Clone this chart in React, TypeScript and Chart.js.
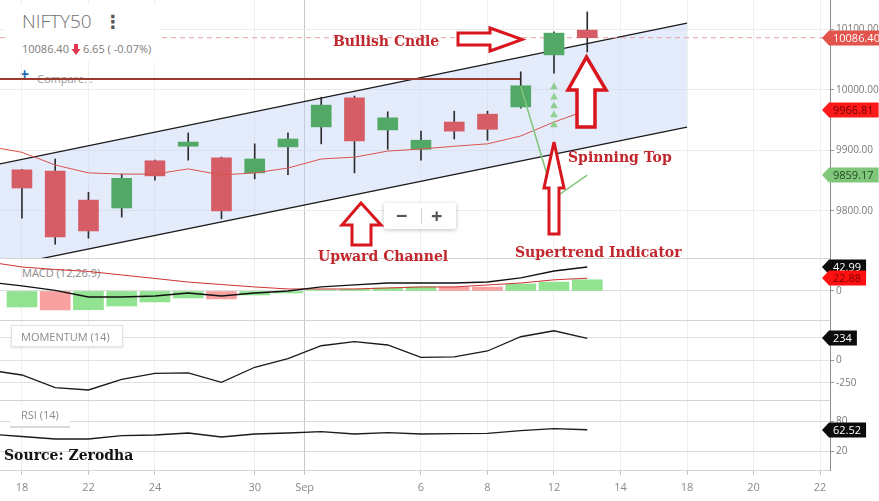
import React, { useEffect, useRef } from 'react';
import { Chart, registerables } from 'chart.js';

Chart.register(...registerables);

const FONT = "'Open Sans', 'DejaVu Sans', sans-serif";
const SERIF = "'DejaVu Serif', serif";

// ---- x axis (trading-day index) ----
const X_MIN = -0.66;
const X_MAX = 24.3;
const xTickPos = [0, 2, 4, 7, 8.5, 12, 14, 16, 18, 20, 22, 24];
const xTickLabels = ['18', '22', '24', '30', 'Sep', '6', '8', '12', '14', '18', '20', '22'];

// ---- candles: Aug 18 ... Sep 13 (index 0..17) ----
const days = [0, 1, 2, 3, 4, 5, 6, 7, 8, 9, 10, 11, 12, 13, 14, 15, 16, 17];
const opens = [9868, 9866, 9818, 9805, 9883, 9907, 9888, 9863, 9906, 9939, 9987, 9934, 9902, 9947, 9960, 9972, 10058, 10099];
const highs = [9869, 9886, 9831, 9861, 9884, 9929, 9889, 9911, 9929, 9988, 9990, 9964, 9932, 9965, 9965, 10030, 10096, 10129];
const lows = [9788, 9745, 9755, 9790, 9851, 9884, 9787, 9853, 9860, 9911, 9863, 9902, 9884, 9919, 9917, 9970, 10028, 10063];
const closes = [9838, 9757, 9767, 9854, 9858, 9914, 9800, 9886, 9919, 9975, 9916, 9954, 9917, 9932, 9935, 10007, 10094, 10086.4];

// ---- indicator series (index -1..17) ----
const indIdx = [-1, 0, 1, 2, 3, 4, 5, 6, 7, 8, 9, 10, 11, 12, 13, 14, 15, 16, 17];
const maVals = [9907, 9897, 9876, 9863, 9861, 9861, 9869.6, 9859.5, 9863, 9871, 9886, 9889, 9899, 9902.5, 9907, 9911, 9924, 9947, 9966.81];

// ---- drawn channel / levels ----
const channelX = [-0.66, 20];
const channelUpper = [9877.7, 10110.7];
const channelLower = [9707.4, 9938.8];
const resistanceX = [-0.66, 15];
const resistanceLevel = 10018;
const lastPrice = 10086.4;

// ---- supertrend ----
const supertrendX = [15, 16, 17];
const supertrendVals = [10006, 9821, 9859.17];
const signalArrowX = 16;
const signalArrowVals = [10005, 9988, 9973.5, 9958.7, 9942];

// ---- MACD ----
const macdVals = [16, 9, 1, -10.8, -10.8, -9, -3.6, -9, -3.6, 0, 7.2, 10.8, 14.3, 14.3, 14.3, 16.1, 23.3, 35.8, 42.99];
const signalVals = [52, 43, 38.5, 35, 28.7, 22.4, 16, 11.6, 7.2, 3.6, 3.6, 3.6, 5.4, 7.2, 7.2, 10.8, 14.3, 20, 22.88];
const histVals = [-28.7, -34, -33.5, -27, -19.7, -12.5, -14.3, -7.2, -3.6, 2, 3, 5.4, 7.4, 7.2, 7.0, 12.5, 16, 20.1];

// ---- Momentum / RSI ----
const momVals = [-110, -163, -301, -326, -210, -145, -141, -242, -79, 14, 155, 199, 163, 29, 33, 98, 253, 318, 234];
const rsiVals = [54, 49, 44, 44, 50.6, 52, 56, 48, 54, 56, 58.6, 54, 56.6, 54, 54.6, 55.4, 60.6, 64.6, 62.52];

const GREEN = '#52a866';
const RED = '#d65c66';
const HIST_GREEN = '#91e291';
const HIST_RED = '#f7a1a1';

type Tag = { value: number; text: string; bg: string; fg: string };

function tagPlugin(tags: Tag[]) {
  return {
    id: 'tags',
    afterDraw(chart: any) {
      const ctx = chart.ctx;
      const ys = chart.scales.y;
      ctx.save();
      ctx.font = `11px ${FONT}`;
      for (const t of tags) {
        const y = Math.round(ys.getPixelForValue(t.value));
        const w = ctx.measureText(t.text).width + 9;
        const x0 = 822;
        const x1 = 829;
        const h = 15;
        ctx.beginPath();
        ctx.moveTo(x0, y);
        ctx.lineTo(x1, y - h / 2);
        ctx.lineTo(x1 + w, y - h / 2);
        ctx.lineTo(x1 + w, y + h / 2);
        ctx.lineTo(x1, y + h / 2);
        ctx.closePath();
        ctx.fillStyle = t.bg;
        ctx.fill();
        ctx.fillStyle = t.fg;
        ctx.textAlign = 'left';
        ctx.textBaseline = 'middle';
        ctx.fillText(t.text, x1 + 4, y + 0.5);
      }
      ctx.restore();
    },
  };
}

const zeroPad = (s: any) => {
  s.paddingTop = 0;
  s.paddingBottom = 0;
  s.paddingLeft = 0;
  s.paddingRight = 0;
};

const xScale = (bottom: boolean) => ({
  type: 'linear',
  min: X_MIN,
  max: X_MAX,
  offset: false,
  afterBuildTicks: (s: any) => {
    s.ticks = xTickPos.map((v) => ({ value: v }));
  },
  afterFit: (s: any) => {
    s.height = bottom ? 31 : 0;
    zeroPad(s);
  },
  border: { display: false },
  grid: {
    offset: false,
    color: (c: any) => (c.tick && c.tick.value === 8.5 ? '#c9c9c9' : '#efefef'),
    drawTicks: bottom,
    tickLength: 5,
    tickColor: '#c4c4c4',
  },
  ticks: {
    display: bottom,
    autoSkip: false,
    maxRotation: 0,
    minRotation: 0,
    padding: 6,
    color: '#8a8a8a',
    font: { size: 11, family: FONT },
    callback: (v: number) => {
      const k = xTickPos.indexOf(v);
      return k >= 0 ? xTickLabels[k] : '';
    },
  },
});

const yScale = (min: number, max: number, ticks: number[], fmt: (v: number) => string, gridColor: string) => ({
  type: 'linear',
  position: 'right',
  min,
  max,
  afterBuildTicks: (s: any) => {
    s.ticks = ticks.map((v) => ({ value: v }));
  },
  afterFit: (s: any) => {
    s.width = 49;
    zeroPad(s);
  },
  border: { display: true, color: '#8c8c8c' },
  grid: { color: gridColor, drawTicks: true, tickLength: 4, tickColor: '#9a9a9a' },
  ticks: { color: '#7a7a7a', padding: 2, font: { size: 10, family: FONT }, callback: fmt },
});

const line = (xs: number[], ys: number[], color: string, width: number, extra: any = {}) => ({
  type: 'line',
  data: xs.map((x, i) => ({ x, y: ys[i] })),
  borderColor: color,
  borderWidth: width,
  pointRadius: 0,
  fill: false,
  tension: 0,
  ...extra,
});

function makeChart(canvas: HTMLCanvasElement, datasets: any[], y: any, bottom: boolean, tags: Tag[]) {
  return new Chart(canvas, {
    type: 'line',
    data: { datasets },
    options: {
      responsive: false,
      animation: false,
      events: [],
      layout: { padding: 0, autoPadding: false },
      plugins: { legend: { display: false }, tooltip: { enabled: false } },
      scales: { x: xScale(bottom), y },
    } as any,
    plugins: [tagPlugin(tags)],
  } as any);
}

export default function App() {
  const mainRef = useRef<HTMLCanvasElement>(null);
  const macdRef = useRef<HTMLCanvasElement>(null);
  const momRef = useRef<HTMLCanvasElement>(null);
  const rsiRef = useRef<HTMLCanvasElement>(null);

  useEffect(() => {
    const charts: Chart[] = [];

    // ---- main price pane ----
    const mainSets = [
      line(channelX, channelUpper, '#1a1a1a', 1.3, { fill: '+1', backgroundColor: 'rgba(190,208,245,0.42)', order: 20 }),
      line(channelX, channelLower, '#1a1a1a', 1.3, { order: 19 }),
      line([X_MIN, X_MAX], [lastPrice, lastPrice], '#e9a0a0', 1, { borderDash: [5, 4], order: 15 }),
      line(resistanceX, [resistanceLevel, resistanceLevel], '#9c3b2d', 2, { order: 14 }),
      {
        type: 'bar',
        data: days.map((i) => ({ x: i, y: [lows[i], highs[i]] })),
        backgroundColor: '#2e2e2e',
        barThickness: 1,
        grouped: false,
        order: 12,
      },
      {
        type: 'bar',
        data: days.map((i) => ({ x: i, y: [opens[i], closes[i]] })),
        backgroundColor: days.map((i) => (closes[i] >= opens[i] ? GREEN : RED)),
        barThickness: 20,
        grouped: false,
        order: 11,
      },
      line(indIdx, maVals, '#d9534f', 1, { order: 5 }),
      line(supertrendX, supertrendVals, '#82c67e', 1.6, { order: 4 }),
      {
        type: 'line',
        data: signalArrowVals.map((v) => ({ x: signalArrowX, y: v })),
        showLine: false,
        pointStyle: 'triangle',
        pointRadius: 4.5,
        pointBackgroundColor: '#8fd08f',
        pointBorderWidth: 0,
        order: 3,
      },
    ];
    charts.push(
      makeChart(
        mainRef.current!,
        mainSets,
        yScale(9722.3, 10148.76, [9800, 9900, 10000, 10100], (v) => Number(v).toFixed(2), '#ececec'),
        false,
        [
          { value: 9966.81, text: '9966.81', bg: '#ff1a1a', fg: '#6a0000' },
          { value: 9859.17, text: '9859.17', bg: '#80c77c', fg: '#234d23' },
          { value: lastPrice, text: '10086.40', bg: '#e2534c', fg: '#ffffff' },
        ]
      )
    );

    // ---- MACD pane ----
    const macdSets = [
      {
        type: 'bar',
        data: days.map((i) => ({ x: i, y: histVals[i] })),
        backgroundColor: days.map((i) => (i === 0 || histVals[i] >= histVals[i - 1] ? HIST_GREEN : HIST_RED)),
        barThickness: 30,
        grouped: false,
        order: 10,
      },
      line(indIdx, signalVals, '#cc3333', 1, { order: 5 }),
      line(indIdx, macdVals, '#111111', 1.3, { order: 4 }),
    ];
    charts.push(
      makeChart(
        macdRef.current!,
        macdSets,
        yScale(-52, 59.1, [0], (v) => String(v), '#dedede'),
        false,
        [
          { value: 42.99, text: '42.99', bg: '#0b0b0b', fg: '#ffffff' },
          { value: 22.88, text: '22.88', bg: '#ff1010', fg: '#7a0000' },
        ]
      )
    );

    // ---- Momentum pane ----
    charts.push(
      makeChart(
        momRef.current!,
        [line(indIdx, momVals, '#1a1a1a', 1.3)],
        yScale(-435, 435, [-250, 0, 250], (v) => String(v), '#e2e2e2'),
        false,
        [{ value: 234, text: '234', bg: '#0b0b0b', fg: '#ffffff' }]
      )
    );

    // ---- RSI pane ----
    charts.push(
      makeChart(
        rsiRef.current!,
        [line(indIdx, rsiVals, '#1a1a1a', 1.3)],
        yScale(-18, 122, [20, 80], (v) => String(v), '#dcdcdc'),
        true,
        [{ value: 62.52, text: '62.52', bg: '#0b0b0b', fg: '#ffffff' }]
      )
    );

    return () => charts.forEach((c) => c.destroy());
  }, []);

  const abs = (s: any) => ({ position: 'absolute' as const, ...s });
  const annot = (text: string, left: number, cy: number, color = '#c1272d', size = 14) => (
    <div
      style={abs({
        left,
        top: cy,
        transform: 'translateY(-50%)',
        fontFamily: SERIF,
        fontWeight: 700,
        fontSize: size,
        lineHeight: 1,
        color,
        whiteSpace: 'nowrap',
      })}
    >
      {text}
    </div>
  );

  return (
    <div
      style={{
        position: 'fixed',
        left: 0,
        top: 0,
        width: 879,
        height: 501,
        background: '#fff',
        overflow: 'hidden',
        fontFamily: FONT,
      }}
    >
      {/* labels beneath the plot lines */}
      <div style={abs({ left: 20, top: 66, color: '#1f6db5', fontSize: 16, fontWeight: 700, lineHeight: '16px' })}>+</div>
      <div style={abs({ left: 37, top: 72, color: '#9a9a9a', fontSize: 11, lineHeight: '14px' })}>Compare...</div>
      <div style={abs({ left: 22, top: 266, color: '#8a8a8a', fontSize: 11, lineHeight: '14px' })}>MACD (12,26,9)</div>

      <canvas ref={mainRef} width={879} height={258} style={abs({ left: 0, top: 0 })} />
      <canvas ref={macdRef} width={879} height={62} style={abs({ left: 0, top: 258 })} />
      <canvas ref={momRef} width={879} height={80} style={abs({ left: 0, top: 320 })} />
      <canvas ref={rsiRef} width={879} height={101} style={abs({ left: 0, top: 400 })} />

      {/* pane separators */}
      {[258, 320, 400, 470].map((t) => (
        <div key={t} style={abs({ left: 0, top: t, width: 830, height: 1, background: '#d4d4d4' })} />
      ))}

      {/* title block */}
      <div style={abs({ left: 5, top: 5, width: 155, height: 57, background: '#fff' })} />
      <div style={abs({ left: 22, top: 11, color: '#6f6f6f', fontSize: 19, fontWeight: 300, lineHeight: '20px' })}>NIFTY50</div>
      <div style={abs({ left: 104, top: 12, color: '#555', fontSize: 18, fontWeight: 700, lineHeight: '20px', fontFamily: "'DejaVu Sans', sans-serif" })}>⋮</div>
      <div style={abs({ left: 22, top: 42, color: '#7d7d7d', fontSize: 11, lineHeight: '14px', whiteSpace: 'nowrap', display: 'flex', alignItems: 'center' })}>
        <span>10086.40</span>
        <svg width="10" height="11" style={{ margin: '0 2px' }}>
          <polygon points="3,0 7,0 7,5 9.5,5 5,11 0.5,5 3,5" fill="#e0344f" />
        </svg>
        <span>6.65 ( -0.07%)</span>
      </div>

      {/* indicator labels */}
      <div
        style={abs({
          left: 11,
          top: 325,
          width: 112,
          height: 22,
          background: '#fff',
          border: '1px solid #e3e3e3',
          boxShadow: '0 1px 2px rgba(0,0,0,0.12)',
          color: '#8a8a8a',
          fontSize: 11,
          lineHeight: '22px',
          paddingLeft: 9,
          boxSizing: 'border-box',
          whiteSpace: 'nowrap',
        })}
      >
        MOMENTUM (14)
      </div>
      <div
        style={abs({
          left: 10,
          top: 405,
          width: 60,
          height: 21,
          background: '#fff',
          boxShadow: '0 2px 0 #d9d9d9',
          color: '#8a8a8a',
          fontSize: 11,
          lineHeight: '20px',
          paddingLeft: 11,
          boxSizing: 'border-box',
          whiteSpace: 'nowrap',
        })}
      >
        RSI (14)
      </div>

      {/* zoom control */}
      <div
        style={abs({
          left: 384,
          top: 203,
          width: 72,
          height: 26,
          background: '#fff',
          boxShadow: '0 1px 4px rgba(0,0,0,0.25)',
          borderRadius: 2,
        })}
      >
        <div style={abs({ left: 12, top: 1, fontSize: 20, fontWeight: 700, color: '#555', lineHeight: '24px' })}>−</div>
        <div style={abs({ left: 37, top: 5, width: 1, height: 16, background: '#d0d0d0' })} />
        <div style={abs({ left: 47, top: 1, fontSize: 20, fontWeight: 700, color: '#555', lineHeight: '24px' })}>+</div>
      </div>

      {/* annotation arrows */}
      <svg width={879} height={501} style={abs({ left: 0, top: 0, pointerEvents: 'none' })}>
        <g fill="#fff" stroke="#d8161e" strokeLinejoin="miter">
          <polygon points="458,33 490,33 490,28 522,39.5 490,51 490,45 458,45" strokeWidth={3} />
          <polygon points="577,127 577,90 568,90 586.5,57 606,90 595,90 595,127" strokeWidth={3.5} />
          <polygon points="352,245 352,225 342,225 361,203 381,225 371,225 371,245" strokeWidth={3} />
          <polygon points="549,234 549,188 544,188 554,142 564,188 559,188 559,234" strokeWidth={3} />
        </g>
      </svg>

      {/* annotation texts */}
      {annot('Bullish Cndle', 333, 41)}
      {annot('Spinning Top', 568, 157)}
      {annot('Upward Channel', 318, 256)}
      {annot('Supertrend Indicator', 515, 252)}
      {annot('Source: Zerodha', 4, 455, '#111', 14)}
    </div>
  );
}
